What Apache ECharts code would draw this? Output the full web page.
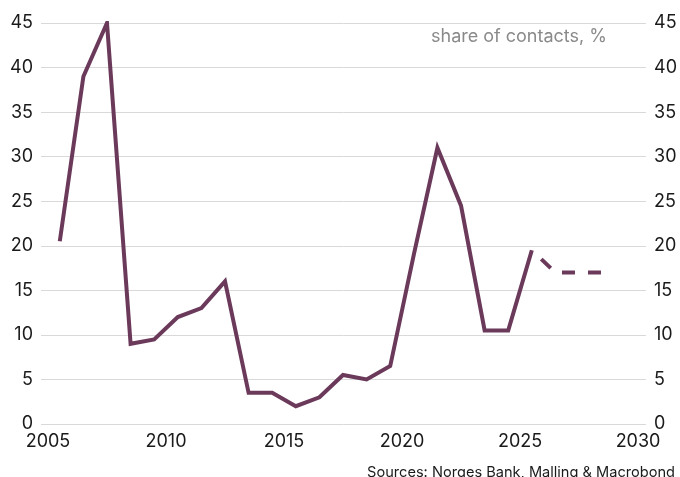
<!DOCTYPE html>
<html>
<head>
<meta charset="utf-8">
<script src="https://cdn.jsdelivr.net/npm/echarts@6/dist/echarts.min.js"></script>
<style>
  html, body { margin: 0; padding: 0; background: #ffffff; }
  #chart { width: 680px; height: 477px; }
</style>
</head>
<body>
<div id="chart"></div>
<script>
// Annual observations, plotted at mid-year
const years = [2005.5, 2006.5, 2007.5, 2008.5, 2009.5, 2010.5, 2011.5, 2012.5, 2013.5, 2014.5,
               2015.5, 2016.5, 2017.5, 2018.5, 2019.5, 2020.5, 2021.5, 2022.5, 2023.5, 2024.5, 2025.5];
const shareOfContacts = [20.5, 39, 45, 9, 9.5, 12, 13, 16, 3.5, 3.5,
                         2, 3, 5.5, 5, 6.5, 19, 31, 24.5, 10.5, 10.5, 19.5];

// Expectations ahead (dashed)
const forecastYears = [2025.5, 2026.5, 2027.5, 2028.5];
const forecastValues = [19.5, 17, 17, 17];

const xTickLabels = [2005, 2010, 2015, 2020, 2025, 2030];
const yTicks = { min: 0, max: 45, step: 5 };

const unitLabel = 'share of contacts, %';
const sourceLabel = 'Sources: Norges Bank, Malling & Macrobond';

const lineColor = '#6b3a5b';
const fontFamily = 'Inter, "Liberation Sans", sans-serif';

const pairs = (xs, ys) => xs.map((x, i) => [x, ys[i]]);

const chart = echarts.init(document.getElementById('chart'), null, { renderer: 'canvas' });

const yAxisBase = {
  type: 'value',
  min: yTicks.min,
  max: yTicks.max,
  interval: yTicks.step,
  axisLine: { show: false },
  axisTick: { show: false },
  axisLabel: { color: '#1a1a1a', fontSize: 18, fontFamily: fontFamily, margin: 8 }
};

chart.setOption({
  animation: false,
  backgroundColor: '#ffffff',
  grid: { left: 41, right: 32, top: 23, bottom: 53, containLabel: false },
  xAxis: {
    type: 'value',
    min: 2004.704,
    max: 2030.338,
    axisLine: { show: false },
    axisTick: { show: false },
    splitLine: { show: false },
    axisLabel: {
      customValues: xTickLabels,
      color: '#1a1a1a',
      fontSize: 18,
      fontFamily: fontFamily,
      margin: 9,
      formatter: v => String(Math.round(v))
    }
  },
  yAxis: [
    Object.assign({}, yAxisBase, {
      position: 'left',
      splitLine: { show: true, lineStyle: { color: '#d9d9d9', width: 1 } }
    }),
    Object.assign({}, yAxisBase, {
      position: 'right',
      splitLine: { show: false }
    })
  ],
  series: [
    {
      type: 'line',
      data: pairs(years, shareOfContacts),
      symbol: 'none',
      lineStyle: { color: lineColor, width: 4, join: 'miter' },
      z: 3
    },
    {
      type: 'line',
      data: pairs(forecastYears, forecastValues),
      symbol: 'none',
      lineStyle: { color: lineColor, width: 4, type: [13, 13], dashOffset: 13 },
      z: 3
    }
  ],
  graphic: [
    {
      type: 'text',
      right: 73,
      top: 28,
      style: { text: unitLabel, fill: '#8a8a8a', fontSize: 18, fontFamily: fontFamily }
    },
    {
      type: 'text',
      right: 5,
      top: 465,
      style: { text: sourceLabel, fill: '#1a1a1a', fontSize: 14.6, fontFamily: fontFamily }
    }
  ]
});
</script>
</body>
</html>
